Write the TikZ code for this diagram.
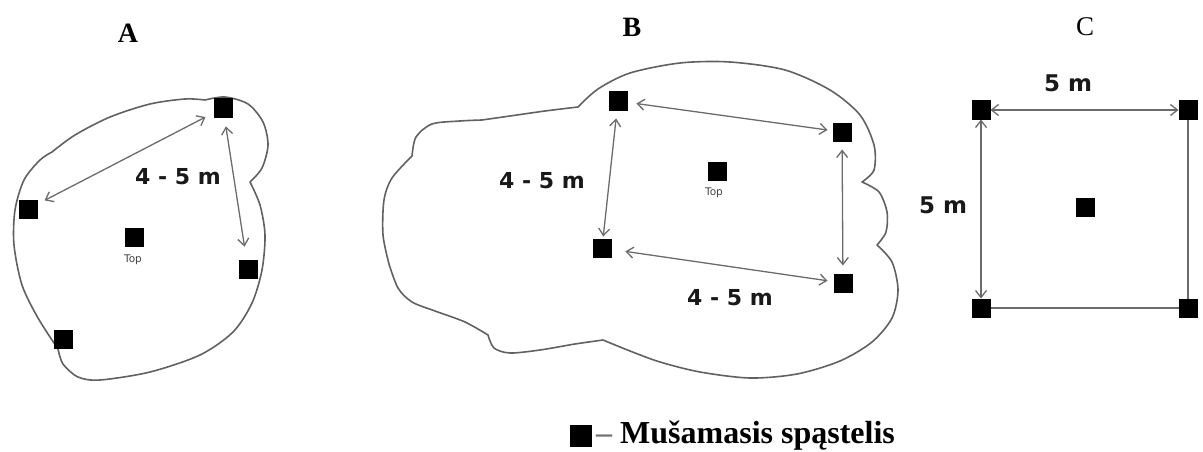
\documentclass[tikz,border=0pt]{standalone}
\usepackage{fontspec}
\setmainfont{Liberation Serif}
\newfontfamily\dimfont{DejaVu Sans}
\usetikzlibrary{arrows.meta}

\tikzset{
  trap/.style={fill=black, minimum size=19pt, inner sep=0pt, outer sep=0pt},
  outline/.style={draw=black!62, line width=1.6pt, line join=round},
  dimline/.style={draw=black!58, line width=1.3pt,
    {Straight Barb[length=7pt,width=11pt]}-{Straight Barb[length=7pt,width=11pt]},
    shorten >=6pt, shorten <=6pt},
  plainline/.style={draw=black!58, line width=1.3pt},
  dimlabel/.style={font=\dimfont\bfseries\fontsize{22}{22}\selectfont, text=black!90, inner sep=0pt},
  toplabel/.style={font=\dimfont\fontsize{10.5}{10.5}\selectfont, text=black!75, inner sep=0pt},
  panel/.style={font=\bfseries\fontsize{28}{28}\selectfont, inner sep=0pt}
}

\begin{document}
\begin{tikzpicture}[x=1pt, y=-1pt]
\useasboundingbox (0,0) rectangle (1203,452);

% ---------------- Plot A ----------------
\node[panel] (labA) at (128,33) {A};
\draw[outline]
  plot[smooth] coordinates {(205,100) (225,97) (248,104) (263,122) (268,145) (262,168) (250,182)}
  -- plot[smooth] coordinates {(250,182) (260,205) (265,235) (262,270) (252,303) (233,332) (200,355) (150,372) (100,380) (78,377) (63,364) (58,349)}
  -- plot[smooth] coordinates {(58,349) (38,318) (22,285) (14,245) (15,210) (24,180) (40,160) (52,152)}
  -- plot[smooth] coordinates {(52,152) (75,135) (110,117) (150,104) (185,99) (205,100)}
  -- cycle;
\node[trap] (a1) at (223,108) {};
\node[trap] (a2) at (28,209) {};
\node[trap] (a3) at (248,269) {};
\node[trap] (a4) at (63,339) {};
\node[trap] (a0) at (134,237) {};
\node[toplabel] (a0t) at (133,260) {Top};
\draw[dimline, shorten <=8pt, shorten >=9pt] (a2) -- (a1);
\draw[dimline, shorten <=9pt, shorten >=13pt] (a1) -- (a3);
\node[dimlabel] (a45) at (178,177) {4 - 5 m};

% ---------------- Plot B ----------------
\node[panel] (labB) at (632,27) {B};
\draw[outline]
  plot[smooth] coordinates {(578,107) (598,89) (630,73) (680,63) (730,62) (785,70) (830,90) (860,115) (874,145) (874,170) (862,182)}
  -- plot[smooth] coordinates {(862,182) (879,192) (887,212) (886,232) (877,245)}
  -- plot[smooth] coordinates {(877,245) (892,262) (898,290) (892,318) (872,342) (840,361) (797,374) (750,378) (700,372) (660,362) (630,351) (603,340)}
  -- plot[smooth] coordinates {(603,340) (575,344) (540,350) (510,353) (494,348) (488,335)}
  -- plot[smooth] coordinates {(488,335) (465,322) (435,311) (412,302) (398,288) (389,264)}
  -- plot[smooth] coordinates {(389,264) (383,235) (384,200) (392,178) (412,156)}
  -- plot[smooth] coordinates {(412,156) (416,137) (432,124) (460,121) (482,120)}
  -- plot[smooth] coordinates {(482,120) (510,116) (545,111) (578,107)}
  -- cycle;
\node[trap] (b1) at (618,101) {};
\node[trap] (b2) at (842,132) {};
\node[trap] (b3) at (602,248) {};
\node[trap] (b4) at (843,283) {};
\node[trap] (b0) at (717,171) {};
\node[toplabel] (b0t) at (714,193) {Top};
\draw[dimline, shorten <=9pt, shorten >=5pt] (b1) -- (b2);
\draw[dimline, shorten <=8pt, shorten >=2pt] (b1) -- (b3);
\draw[dimline, shorten <=14pt, shorten >=6pt] (b3) -- (b4);
\draw[dimline, shorten <=8pt, shorten >=8pt] (b2) -- (b4);
\node[dimlabel] (b45a) at (542,181) {4 - 5 m};
\node[dimlabel] (b45b) at (730,298) {4 - 5 m};

% ---------------- Plot C ----------------
\node[panel, font=\fontsize{27}{27}\selectfont] (labC) at (1085,27) {C};
\node[trap] (c1) at (981,110) {};
\node[trap] (c2) at (1188,110) {};
\node[trap] (c3) at (981,308) {};
\node[trap] (c4) at (1188,308) {};
\node[trap] (c0) at (1085,207) {};
\draw[plainline] (c2) -- (c4);
\draw[plainline] (c3) -- (c4);
\draw[dimline, shorten <=0pt, shorten >=0pt] (c1) -- (c2);
\draw[dimline, shorten <=0pt, shorten >=0pt] (c1) -- (c3);
\node[dimlabel, font=\dimfont\bfseries\fontsize{23}{23}\selectfont] (c5a) at (1068,83) {5 m};
\node[dimlabel, font=\dimfont\bfseries\fontsize{23}{23}\selectfont] (c5b) at (943,205) {5 m};

% ---------------- Legend ----------------
\node[trap, minimum size=22pt] (key) at (581,436) {};
\node[anchor=base west, inner sep=0pt, font=\bfseries\fontsize{32}{32}\selectfont]
  (keytext) at (596,443) {{\color{black!55}–}\ Mušamasis spąstelis};
\end{tikzpicture}
\end{document}
